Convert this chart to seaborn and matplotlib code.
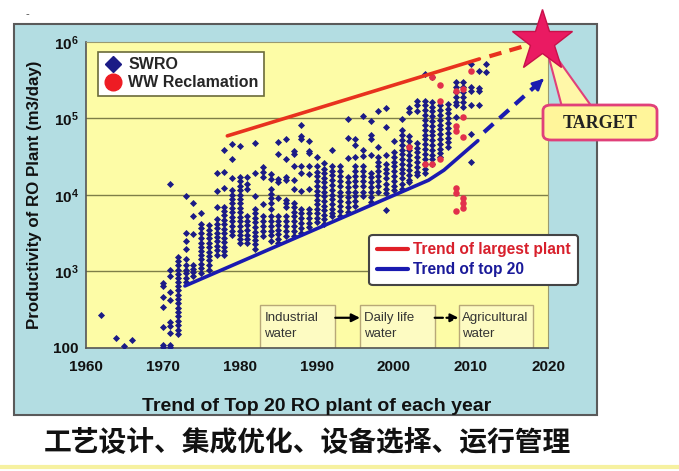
import numpy as np
import pandas as pd
import matplotlib
matplotlib.use("Agg")
import matplotlib.pyplot as plt
import seaborn as sns
from matplotlib.patches import Rectangle, Polygon, FancyBboxPatch
from matplotlib.lines import Line2D
from matplotlib.ticker import MultipleLocator, LogLocator, NullFormatter

# ---------- data ----------
# SWRO plants: (year, [capacities in m3/day])
swro_1960s = [
    (1962, [270]), (1964, [135]), (1965, [105]), (1966, [125]),
]
swro_1970s = [
    (1970, [690, 640, 465, 340, 184, 108, 103]),
    (1971, [14000, 1050, 860, 540, 420, 218, 190, 154, 108, 103]),
    (1972, [1550, 1370, 1200, 1050, 930, 820, 720, 640, 560, 490, 430,
            380, 330, 290, 255, 225, 195, 170, 150]),
    (1973, [9600, 3200, 2450, 1950, 1450, 1200, 1050, 950, 820, 720]),
    (1974, [7900, 5300, 3100, 1200, 1080, 960, 860]),
    (1975, [5700, 4100, 3700, 3200, 2700, 2350, 2100, 1850, 1650, 1450,
            1250, 1100, 950]),
    (1976, [4000, 3500, 3050, 2700, 2350, 2050, 1800, 1600, 1400, 1200, 1050]),
    (1977, [19500, 11300, 7000, 4800, 4200, 3700, 3200, 2800, 2450, 2150,
            1900, 1650]),
    (1978, [38000, 20000, 12200, 7000, 6200, 5400, 4700, 4100, 3600, 3150,
            2750, 2400, 2100, 1850, 1650]),
    (1979, [46000, 29500, 16800, 11500, 10000, 8800, 7700, 6700, 5900, 5100,
            4500, 3900, 3400, 3000]),
]
swro_1980s = [
    (1980, [43000, 17000, 15000, 13000, 11500, 10000, 8800, 7700, 6700, 5900,
            5100, 4500, 3900, 3400, 3000, 2600, 2300]),
    (1981, [17000, 13800, 11800, 5200, 4600, 4000, 3500, 3000, 2600, 2350]),
    (1982, [47000, 19500, 9600, 6500, 5700, 5000, 4400, 3800, 3300, 2900,
            2550, 2250, 1950]),
    (1983, [23000, 20000, 17000, 7500, 5200, 4500, 3900, 3400, 2900]),
    (1984, [18500, 16000, 11800, 10300, 9000, 7800, 6500, 5200, 4500, 3900,
            3400, 2950, 2500]),
    (1985, [49000, 34000, 16000, 14500, 9100, 5200, 4600, 4000, 3500, 3050,
            2650, 2300]),
    (1986, [53000, 29500, 17000, 15500, 8600, 7900, 7000, 5200, 4500, 3900,
            3400, 2900]),
    (1987, [37000, 34000, 24000, 15500, 12000, 7900, 6900, 6000, 5200, 4500,
            3900, 3400, 2900]),
    (1988, [83000, 59000, 54000, 24000, 19500, 11300, 6500, 5700, 5000, 4300,
            3700, 3200]),
    (1989, [51000, 37000, 35000, 24000, 18500, 12000, 6500, 5700, 5000, 4300, 3800]),
]
swro_1990s = [
    (1990, [31000, 24000, 20000, 17500, 15000, 13000, 11300, 9800, 8500, 7500,
            6500, 5700, 5000, 4400]),
    (1991, [26000, 22000, 19000, 16500, 14500, 12500, 11000, 9500, 8300, 7200,
            6300, 5500, 4800, 4200]),
    (1992, [38000, 24000, 20500, 18000, 15500, 13500, 11500, 10000, 8700,
            7600, 6600, 5700, 5200]),
    (1993, [24000, 20500, 17500, 15000, 13000, 11000, 9500, 8200, 7100, 6200, 5300]),
    (1994, [98000, 56000, 30000, 17000, 14500, 12500, 10800, 9300, 8000, 6900, 6000]),
    (1995, [53000, 45000, 31000, 24000, 20500, 17500, 15000, 13000, 11000,
            9500, 8200, 7100]),
    (1996, [107000, 39000, 32000, 24000, 20500, 17500, 15000, 13000, 11000, 9500]),
    (1997, [93000, 60000, 53000, 33000, 19500, 17000, 14500, 12500, 10800,
            9300, 8000]),
    (1998, [126000, 42000, 31000, 27000, 23500, 20500, 17500, 15000, 13000, 11000]),
    (1999, [138000, 76000, 33000, 25000, 22000, 19000, 16500, 14000, 12000,
            10500, 6300]),
]
swro_2000s = [
    (2000, [51000, 36000, 31000, 27000, 23500, 20500, 17500, 15000, 13000, 11500]),
    (2001, [98000, 70000, 60000, 52000, 45000, 39000, 34000, 29500, 25500,
            22000, 19000, 16500, 14000, 12000]),
    (2002, [138000, 120000, 59000, 51000, 44000, 38000, 33000, 28500, 24500,
            21000, 18000, 15500, 14500]),
    (2003, [170000, 150000, 125000, 48000, 41000, 36000, 31000, 27000, 23000,
            20000, 18000]),
    (2004, [380000, 170000, 148000, 128000, 110000, 95000, 82000, 71000, 61000,
            53000, 46000, 40000, 34000, 29500, 25500, 22000, 19000]),
    (2005, [350000, 165000, 143000, 124000, 107000, 92000, 80000, 69000,
            60000, 52000, 45000, 39000, 33500, 29000, 25000]),
    (2006, [148000, 128000, 111000, 96000, 83000, 72000, 62000, 54000, 46500,
            40000, 35000, 31000]),
    (2007, [155000, 134000, 116000, 100000, 87000, 75000, 65000, 56000,
            48500, 42000]),
    (2008, [295000, 255000, 220000, 190000, 165000, 148000, 103000]),
    (2009, [295000, 255000, 220000, 190000, 165000, 143000]),
    (2010, [510000, 260000, 230000, 148000, 62000, 27000]),
    (2011, [420000, 250000, 225000, 148000]),
    (2012, [510000, 400000]),
]

# WW reclamation plants
ww_year = [2002, 2004, 2005, 2006, 2005, 2006, 2006, 2008, 2008, 2008,
           2009, 2009, 2009, 2010, 2008, 2008, 2008, 2009, 2009, 2009]
ww_cap = [42000, 25000, 25000, 29500, 345000, 270000, 170000, 230000, 80000,
          68000, 240000, 103000, 57000, 420000, 12300, 10700, 6100, 9100,
          7900, 6800]

# trend lines
largest_year = [1978.4, 2011.1]
largest_cap = [59000, 600000]
largest_ext_year = [2012.4, 2018.0]
largest_ext_cap = [650000, 950000]
top20_year = [1972.9, 2004.5, 2006.5, 2010.9]
top20_cap = [640, 15500, 21000, 51000]
top20_ext_year = [2011.7, 2019.7]
top20_ext_cap = [66000, 350000]

target_year, target_cap = 2019.2, 1.02e6

stages = ["Industrial\nwater", "Daily life\nwater", "Agricultural\nwater"]
stage_left = [1982.7, 1995.6, 2008.4]
stage_width = 9.7
stage_top = 360

y_ticks = [1e2, 1e3, 1e4, 1e5, 1e6]
y_ticklabels = ["100", r"$\mathbf{10^{3}}$", r"$\mathbf{10^{4}}$",
                r"$\mathbf{10^{5}}$", r"$\mathbf{10^{6}}$"]
x_ticks = [1960, 1970, 1980, 1990, 2000, 2010, 2020]

NAVY = "#1b1b86"
RED_PT = "#e2304c"
RED_LINE = "#e8321e"
BLUE_LINE = "#1a1ab0"

# ---------- build table ----------
rows = []
for year, caps in swro_1960s + swro_1970s + swro_1980s + swro_1990s + swro_2000s:
    for c in caps:
        rows.append((year, c, "SWRO"))
for y, c in zip(ww_year, ww_cap):
    rows.append((y, c, "WW Reclamation"))
df = pd.DataFrame(rows, columns=["year", "capacity", "type"])

# ---------- style ----------
sns.set_theme(style="white")
plt.rcParams["font.family"] = ["Liberation Sans", "DejaVu Sans"]
plt.rcParams["mathtext.fontset"] = "custom"
plt.rcParams["mathtext.rm"] = "Liberation Sans"
plt.rcParams["mathtext.bf"] = "Liberation Sans:bold"

fig = plt.figure(figsize=(6.79, 4.71), dpi=100)
fig.patch.set_facecolor("white")

W, H = 679.0, 471.0
panel = Rectangle((14 / W, 1 - 415 / H), (597 - 14) / W, (415 - 24) / H,
                  transform=fig.transFigure, fc="#b3dde2", ec="#5a5a5a", lw=1.5)
panel.set_zorder(-1)
fig.add_artist(panel)

ax = fig.add_axes([85.5 / W, 1 - 347.5 / H, (548 - 85.5) / W, (347.5 - 42) / H])
ax.set_facecolor("#fdfca6")

# ---------- scatter ----------
sns.scatterplot(data=df[df["type"] == "SWRO"], x="year", y="capacity",
                marker="D", s=13, color=NAVY, linewidth=0, legend=False,
                ax=ax, zorder=3)
sns.scatterplot(data=df[df["type"] == "WW Reclamation"], x="year", y="capacity",
                marker="o", s=22, color=RED_PT, linewidth=0, legend=False,
                ax=ax, zorder=4)

# ---------- trend lines ----------
ax.plot(largest_year, largest_cap, color=RED_LINE, lw=2.6, zorder=5)
ax.plot(largest_ext_year, largest_ext_cap, color=RED_LINE, lw=3, ls=(0, (3, 2)),
        zorder=5, clip_on=False)
ax.plot(top20_year, top20_cap, color=BLUE_LINE, lw=2.6, zorder=5)
ax.plot(top20_ext_year, top20_ext_cap, color=BLUE_LINE, lw=3, ls=(0, (3, 2)),
        zorder=5)
ax.annotate("", xy=(top20_ext_year[1], top20_ext_cap[1]),
            xytext=(top20_ext_year[1] - 0.8, top20_ext_cap[1] * 0.84),
            arrowprops=dict(arrowstyle="-|>", color=BLUE_LINE, lw=2,
                            mutation_scale=16), zorder=6)

# ---------- target star + callout ----------
pointer = Polygon([(549 / W, 1 - 58 / H), (557 / W, 1 - 58 / H),
                   (592 / W, 1 - 107 / H), (562 / W, 1 - 107 / H)],
                  closed=True, transform=fig.transFigure, fc="#fff7a8",
                  ec="#e0407a", lw=1.5, clip_on=False, zorder=8)
ax.add_patch(pointer)
box = FancyBboxPatch((543 / W, 1 - 140 / H), 114 / W, 35 / H,
                     boxstyle="round,pad=0,rounding_size=0.012",
                     transform=fig.transFigure, fc="#fff59a", ec="#e0407a",
                     lw=2, clip_on=False, zorder=9)
ax.add_patch(box)
ax.text(600 / W, 1 - 123 / H, "TARGET", transform=fig.transFigure,
        ha="center", va="center", fontsize=13, fontweight="bold",
        family=["Liberation Serif", "DejaVu Serif"], color="#222222", zorder=10)
ax.plot(target_year, target_cap, marker="*", ms=46, mfc="#ea1a62",
        mec="#c8104a", mew=1, clip_on=False, zorder=11)

# ---------- stage boxes ----------
for label, x0 in zip(stages, stage_left):
    ax.add_patch(Rectangle((x0, 100), stage_width, stage_top - 100,
                           fc="#fdfbc2", ec="#b8a878", lw=1, zorder=2))
    ax.text(x0 + 0.5, 290, label, ha="left", va="top", fontsize=9.5,
            color="#333333", linespacing=1.4, zorder=2.2)
ax.annotate("", xy=(stage_left[1], 245), xytext=(stage_left[0] + stage_width, 245),
            arrowprops=dict(arrowstyle="-|>", color="black", lw=1.6,
                            mutation_scale=12, shrinkA=0, shrinkB=0), zorder=7)
ax.annotate("", xy=(stage_left[2], 245), xytext=(stage_left[1] + stage_width, 245),
            arrowprops=dict(arrowstyle="-|>", color="black", lw=1.6,
                            ls="--", mutation_scale=12, shrinkA=0, shrinkB=0),
            zorder=7)

# ---------- axes ----------
ax.set_yscale("log")
ax.set_xlim(1960, 2020)
ax.set_ylim(100, 1e6)
for g in [1e3, 1e4, 1e5]:
    ax.axhline(g, color="#7e7e48", lw=1, zorder=1)
ax.set_yticks(y_ticks)
ax.set_yticklabels(y_ticklabels)
ax.yaxis.set_minor_locator(LogLocator(base=10, subs=np.arange(2, 10)))
ax.yaxis.set_minor_formatter(NullFormatter())
ax.set_xticks(x_ticks)
ax.xaxis.set_minor_locator(MultipleLocator(2))
ax.tick_params(which="major", direction="in", length=5, width=1,
               color="#555555", labelsize=11)
ax.tick_params(axis="x", which="major", pad=9)
ax.tick_params(axis="y", which="major", pad=5)
ax.tick_params(which="minor", direction="in", length=2.5, width=0.8,
               color="#777777")
for t in ax.get_xticklabels() + ax.get_yticklabels():
    t.set_fontweight("bold")
    t.set_color("#111111")
for side in ["left", "bottom"]:
    ax.spines[side].set_color("#555555")
    ax.spines[side].set_linewidth(1.2)
for side in ["top", "right"]:
    ax.spines[side].set_color("#9a9a70")
    ax.spines[side].set_linewidth(0.8)

ax.set_xlabel("Trend of Top 20 RO plant of each year", fontsize=14,
              fontweight="bold", color="#111111", labelpad=17)
ax.set_ylabel("Productivity of RO Plant (m3/day)", fontsize=12.2,
              fontweight="bold", color="#111111", labelpad=8)

# ---------- legends ----------
h1 = [Line2D([], [], ls="none", marker="D", ms=8.5, mfc=NAVY, mec=NAVY),
      Line2D([], [], ls="none", marker="o", ms=12, mfc="#ee1c24", mec="#ee1c24")]
leg1 = ax.legend(h1, ["SWRO", "WW Reclamation"], loc="upper left",
                 bbox_to_anchor=(0.01, 0.995), frameon=True, fancybox=False,
                 edgecolor="#6b6b3a", framealpha=1, borderpad=0.35,
                 handletextpad=0.35, labelspacing=0.2, handlelength=1.2,
                 prop=dict(weight="bold", size=11.5))
leg1.get_frame().set_linewidth(1.2)
ax.add_artist(leg1)

h2 = [Line2D([], [], color="#e02028", lw=3), Line2D([], [], color=BLUE_LINE, lw=3)]
leg2 = ax.legend(h2, ["Trend of largest plant", "Trend of top 20"],
                 loc="upper left", bbox_to_anchor=(0.597, 0.395), frameon=True,
                 fancybox=True, edgecolor="#444444", framealpha=1,
                 borderpad=0.5, handletextpad=0.3, labelspacing=0.3,
                 handlelength=2.0, prop=dict(weight="bold", size=11.2))
leg2.get_frame().set_linewidth(1.5)
leg2.set_zorder(12)
leg2.get_texts()[0].set_color("#d8202c")
leg2.get_texts()[1].set_color("#1a1a9a")

# ---------- figure text ----------
fig.text(27 / W, 1 - 14 / H, "-", fontsize=8, color="#444444", ha="center", va="center")
fig.text(307 / W, 1 - 443 / H, "工艺设计、集成优化、设备选择、运行管理",
         ha="center", va="center", fontsize=20, fontweight="bold",
         family=["Noto Sans CJK SC", "DejaVu Sans"], color="#111111")
fig.add_artist(Line2D([0, 1], [1 - 467 / H, 1 - 467 / H], color="#f6f1a0",
                      lw=3, transform=fig.transFigure))

fig.savefig("out.png", dpi=100)
plt.close(fig)
